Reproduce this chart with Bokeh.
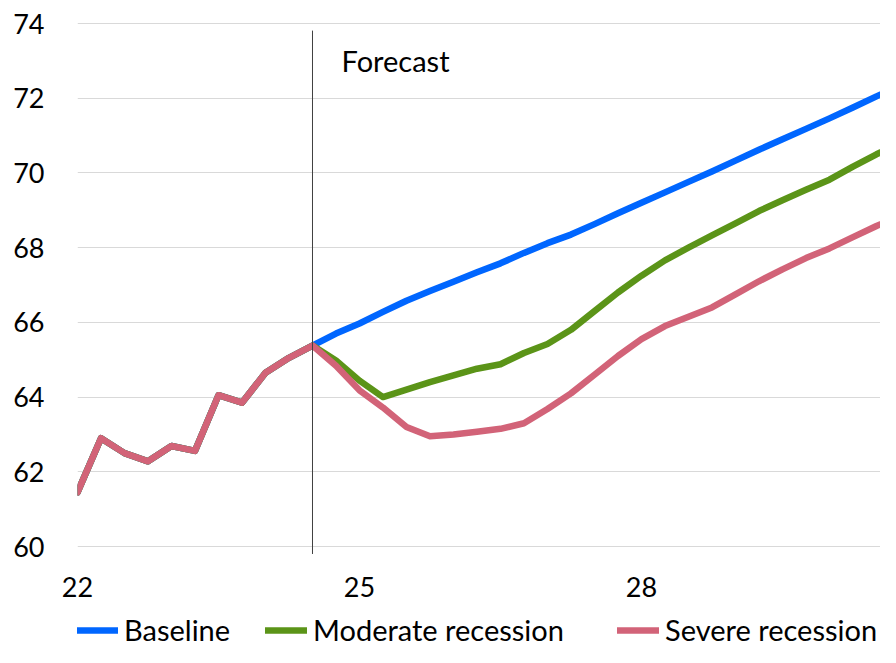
from bokeh.plotting import figure
from bokeh.models import FixedTicker, Legend, LegendItem, Label
from bokeh.embed import file_html
from bokeh.resources import INLINE

# ---- data (x = year + quarter fraction) ----
quarter_x = [22.0, 22.25, 22.5, 22.75, 23.0, 23.25, 23.5, 23.75, 24.0, 24.25, 24.5,
             24.75, 25.0, 25.25, 25.5, 25.75, 26.0, 26.25, 26.5, 26.75, 27.0, 27.25,
             27.5, 27.75, 28.0, 28.25, 28.5, 28.75, 29.0, 29.25, 29.5, 29.75, 30.0,
             30.25, 30.5, 30.75]

history = [61.45, 62.9, 62.5, 62.28, 62.69, 62.56, 64.05, 63.85, 64.65, 65.05, 65.38]

baseline_forecast = [65.7, 65.97, 66.28, 66.58, 66.84, 67.09, 67.34, 67.58, 67.86, 68.12,
                     68.35, 68.63, 68.92, 69.2, 69.48, 69.76, 70.04, 70.33, 70.62, 70.9,
                     71.18, 71.46, 71.75, 72.05, 72.33]
moderate_forecast = [64.98, 64.44, 64.0, 64.2, 64.4, 64.58, 64.76, 64.88, 65.18, 65.42,
                     65.8, 66.3, 66.8, 67.25, 67.66, 68.0, 68.33, 68.65, 68.98, 69.27,
                     69.55, 69.82, 70.17, 70.5, 70.78]
severe_forecast = [64.84, 64.18, 63.72, 63.2, 62.95, 63.0, 63.07, 63.15, 63.3, 63.68,
                   64.1, 64.6, 65.1, 65.55, 65.9, 66.15, 66.4, 66.75, 67.1, 67.42,
                   67.72, 67.98, 68.28, 68.58, 68.85]

baseline = history + baseline_forecast
moderate = history + moderate_forecast
severe = history + severe_forecast

series_names = ["Baseline", "Moderate recession", "Severe recession"]
series_colors = ["#0066FF", "#5B9418", "#D26378"]

y_ticks = [60, 62, 64, 66, 68, 70, 72, 74]
x_ticks = [22, 25, 28]
x_tick_labels = ["22", "25", "28"]

forecast_start = 24.5
forecast_label = "Forecast"
forecast_label_y = 73.0
forecast_line_bottom = 59.8
forecast_line_top = 73.81

FONT = "Lato"
TICK_FS = "27px"
TEXT_FS = "29px"

# the frame runs down to the bottom edge so the legend (drawn inside it) stays visible
p = figure(width=880, height=647,
           x_range=(22, 30.543), y_range=(57.297, 74.348),
           output_backend="svg", toolbar_location=None,
           min_border_left=77, min_border_right=0, min_border_top=10, min_border_bottom=0)
p.outline_line_color = None
p.background_fill_color = "white"
p.border_fill_color = "white"

renderers = []
for vals, col in zip([baseline, moderate, severe], series_colors):
    r = p.line(quarter_x, vals, line_color=col, line_width=6.5,
               line_join="round", line_cap="round")
    renderers.append(r)

p.segment(x0=[forecast_start], y0=[forecast_line_bottom],
          x1=[forecast_start], y1=[forecast_line_top],
          line_color="#404040", line_width=1)

p.add_layout(Label(x=forecast_start, y=forecast_label_y, x_offset=29, text=forecast_label,
                   text_font=FONT, text_font_size=TEXT_FS, text_color="black",
                   text_baseline="alphabetic", text_align="left"))

# axes
p.yaxis.ticker = FixedTicker(ticks=y_ticks)
p.xaxis.ticker = FixedTicker(ticks=x_ticks)
p.xaxis.major_label_overrides = {t: l for t, l in zip(x_ticks, x_tick_labels)}
for ax in (p.xaxis[0], p.yaxis[0]):
    ax.axis_line_color = None
    ax.major_tick_line_color = None
    ax.minor_tick_line_color = None
    ax.major_tick_in = 0
    ax.major_tick_out = 0
    ax.major_label_text_font = FONT
    ax.major_label_text_font_size = TICK_FS
    ax.major_label_text_color = "black"
p.yaxis.major_label_standoff = 33
p.xaxis.major_label_standoff = -71

p.xgrid.visible = False
p.ygrid.grid_line_color = "#D9D9D9"
p.ygrid.grid_line_width = 1

legend_x = [-1, 188, 540]
for name, r, lx in zip(series_names, renderers, legend_x):
    lg = Legend(items=[LegendItem(label=name, renderers=[r])],
                location=(lx, 0), orientation="horizontal",
                glyph_width=42, glyph_height=20, label_standoff=6,
                padding=0, margin=0, spacing=0,
                label_text_font=FONT, label_text_font_size=TEXT_FS, label_text_color="black",
                background_fill_alpha=0, border_line_color=None)
    p.add_layout(lg, "center")

open("out.html", "w").write(file_html(p, INLINE))
